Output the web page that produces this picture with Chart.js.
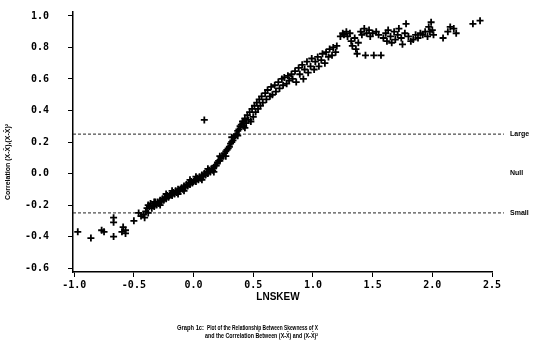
<!DOCTYPE html>
<html>
<head>
<meta charset="utf-8">
<script src="https://cdn.jsdelivr.net/npm/chart.js@4.4.1/dist/chart.umd.min.js"></script>
<style>
  html, body { margin: 0; padding: 0; background: #fff; }
  #wrap { width: 538px; height: 347px; }
</style>
</head>
<body>
<div id="wrap"><canvas id="skewChart" width="538" height="347"></canvas></div>
<script>
// === Data ===
const lnskew = [
  // left tail
  -0.97, -0.86, -0.77, -0.75, -0.67, -0.67, -0.67, -0.60, -0.59, -0.57, -0.57, -0.50, -0.46, -0.44, -0.42, -0.41,
  // tight band
  -0.40, -0.39, -0.38, -0.37, -0.36, -0.35, -0.34, -0.33, -0.32, -0.31, -0.30, -0.29, -0.28, -0.27, -0.26, -0.25,
  -0.24, -0.23, -0.22, -0.21, -0.20, -0.19, -0.18, -0.17, -0.16, -0.15, -0.14, -0.13, -0.12, -0.11, -0.10, -0.09,
  -0.08, -0.07, -0.06, -0.05, -0.04, -0.03, -0.02, -0.01, 0.00, 0.01, 0.02, 0.03, 0.04, 0.05, 0.06, 0.07,
  0.08, 0.09, 0.10, 0.11, 0.12, 0.13, 0.14, 0.15, 0.16, 0.17, 0.18, 0.19, 0.20, 0.21, 0.22, 0.23,
  0.24, 0.25, 0.26, 0.27, 0.28, 0.29, 0.30, 0.31, 0.32, 0.33, 0.34, 0.35, 0.36, 0.37, 0.38, 0.39, 0.40,
  -0.38, -0.33, -0.28, -0.23, -0.18, -0.13, -0.08, -0.03, 0.02, 0.07, 0.12, 0.17, 0.22, 0.27, 0.32, 0.37, 0.42, 0.43,
  // widening band
  0.41, 0.42, 0.43, 0.44, 0.45, 0.46, 0.47, 0.48, 0.49, 0.50, 0.51, 0.52, 0.53, 0.54,
  0.55, 0.56, 0.57, 0.58, 0.60, 0.61, 0.62, 0.64, 0.65, 0.66, 0.68, 0.69, 0.71, 0.72, 0.74,
  0.75, 0.76, 0.78, 0.79, 0.80, 0.82, 0.83, 0.85, 0.86, 0.88, 0.89, 0.91, 0.92, 0.93, 0.95, 0.96, 0.98, 0.99,
  1.01, 1.02, 1.04, 1.05, 1.07, 1.08, 1.10, 1.11, 1.13, 1.14, 1.16, 1.17, 1.19, 1.20,
  // plateau
  1.23, 1.25, 1.26, 1.28, 1.29, 1.31, 1.32, 1.33, 1.35, 1.36, 1.37, 1.38, 1.40, 1.41, 1.43, 1.44, 1.45, 1.47,
  1.48, 1.50, 1.51, 1.53, 1.55, 1.57, 1.59, 1.61, 1.62, 1.63, 1.65, 1.66, 1.68, 1.69, 1.71, 1.72, 1.74, 1.75,
  1.77, 1.78, 1.80, 1.82, 1.84, 1.86, 1.88, 1.90, 1.92, 1.94, 1.96, 1.97, 1.98, 1.99, 2.00, 2.01, 2.09, 2.13,
  2.15, 2.18, 2.20, 2.34, 2.40,
  // lone outlier
  0.09
];
const corr = [
  -0.37, -0.41, -0.36, -0.37, -0.28, -0.31, -0.40, -0.37, -0.34, -0.36, -0.38, -0.30, -0.25, -0.27, -0.26, -0.28,
  -0.24, -0.22, -0.25, -0.21, -0.19, -0.22, -0.20, -0.21, -0.18, -0.20, -0.18, -0.19, -0.17, -0.18, -0.16, -0.17,
  -0.15, -0.16, -0.14, -0.15, -0.14, -0.13, -0.14, -0.12, -0.13, -0.11, -0.12, -0.10, -0.11, -0.10, -0.09, -0.10,
  -0.08, -0.09, -0.07, -0.08, -0.06, -0.07, -0.05, -0.06, -0.05, -0.04, -0.05, -0.03, -0.04, -0.02, -0.03, -0.01,
  -0.02, 0.00, -0.01, 0.01, 0.00, 0.02, 0.01, 0.03, 0.02, 0.04, 0.05, 0.05, 0.07, 0.08, 0.08, 0.10,
  0.11, 0.11, 0.13, 0.14, 0.15, 0.16, 0.17, 0.19, 0.20, 0.21, 0.23, 0.24, 0.25, 0.27, 0.28, 0.30, 0.31,
  -0.20, -0.18, -0.20, -0.13, -0.11, -0.13, -0.11, -0.04, -0.02, -0.04, 0.03, 0.01, 0.11, 0.11, 0.23, 0.24, 0.33, 0.29,
  0.33, 0.30, 0.35, 0.32, 0.37, 0.34, 0.39, 0.33, 0.41, 0.36, 0.43, 0.39, 0.45, 0.41,
  0.47, 0.43, 0.49, 0.45, 0.51, 0.47, 0.53, 0.49, 0.55, 0.50, 0.56, 0.52, 0.58, 0.54, 0.60,
  0.56, 0.61, 0.57, 0.62, 0.59, 0.63, 0.60, 0.65, 0.58, 0.67, 0.63, 0.69, 0.60, 0.66, 0.71, 0.64, 0.68, 0.73,
  0.66, 0.71, 0.74, 0.68, 0.72, 0.76, 0.70, 0.77, 0.74, 0.79, 0.75, 0.80, 0.77, 0.81,
  0.87, 0.89, 0.88, 0.90, 0.87, 0.89, 0.84, 0.81, 0.86, 0.79, 0.76, 0.83, 0.90, 0.88, 0.92, 0.75, 0.89, 0.91,
  0.87, 0.89, 0.75, 0.90, 0.88, 0.75, 0.86, 0.89, 0.84, 0.91, 0.87, 0.83, 0.90, 0.85, 0.88, 0.92, 0.86, 0.82,
  0.89, 0.95, 0.87, 0.84, 0.85, 0.88, 0.86, 0.89, 0.88, 0.90, 0.87, 0.93, 0.90, 0.96, 0.91, 0.88, 0.86, 0.90,
  0.93, 0.92, 0.89, 0.95, 0.97,
  0.34
];
const xTicks = [-1.0, -0.5, 0.0, 0.5, 1.0, 1.5, 2.0, 2.5];
const yTicks = [-0.6, -0.4, -0.2, 0.0, 0.2, 0.4, 0.6, 0.8, 1.0];
const refLevels = [0.25, -0.25];
const refLabels = ['Large', 'Null', 'Small'];
const refLabelLevels = [0.25, 0.0, -0.25];

const points = lnskew.map((v, i) => ({ x: v, y: corr[i] }));

const tickFont = { family: '"DejaVu Sans Mono"', size: 10, weight: 'bold' };

// dashed reference lines run a little past the end of the x axis
const refSets = refLevels.map(level => ({
  type: 'line',
  data: [{ x: -1.01, y: level }, { x: 2.6, y: level }],
  borderColor: '#222',
  borderWidth: 1,
  borderDash: [3, 2],
  pointRadius: 0,
  fill: false,
  clip: false
}));

// text around the plot: right-hand labels, axis titles, caption
const annotations = {
  id: 'annotations',
  afterDraw(chart) {
    const c = chart.ctx;
    const ys = chart.scales.y;
    c.save();
    c.fillStyle = '#000';
    c.textBaseline = 'middle';
    c.textAlign = 'left';
    c.font = 'bold 7px "Liberation Sans"';
    refLabels.forEach((t, i) => c.fillText(t, 510, ys.getPixelForValue(refLabelLevels[i]), 22));

    c.textAlign = 'center';
    c.font = 'bold 10px "Liberation Sans"';
    c.fillText('LNSKEW', 278, 297);

    c.save();
    c.translate(8, 162);
    c.rotate(-Math.PI / 2);
    c.font = 'bold 7px "Liberation Sans"';
    c.fillText('Correlation (X-X\u0304),(X-X\u0304)\u00b2', 0, 0, 98);
    c.restore();

    c.textAlign = 'left';
    c.font = 'bold 7px "Liberation Sans"';
    c.fillText('Graph 1c:', 177, 328, 27);
    c.fillText('Plot of the Relationship Between Skewness of X', 207, 328, 111);
    c.fillText('and the Correlation Between (X-X\u0304) and (X-X\u0304)\u00b2', 205, 336, 113);
    c.restore();
  }
};

const ctx = document.getElementById('skewChart').getContext('2d');
new Chart(ctx, {
  type: 'scatter',
  data: {
    datasets: [{
      data: points,
      pointStyle: 'cross',
      pointRadius: 3.5,
      borderColor: '#000',
      backgroundColor: '#000',
      borderWidth: 1.8
    }, ...refSets]
  },
  options: {
    responsive: false,
    animation: false,
    layout: { padding: { top: 12, right: 46, bottom: 0, left: 0 } },
    plugins: { legend: { display: false }, tooltip: { enabled: false } },
    scales: {
      x: {
        type: 'linear',
        min: -1.01,
        max: 2.5,
        afterFit: s => { s.height = 75; },
        afterBuildTicks: s => { s.ticks = xTicks.map(v => ({ value: v })); },
        grid: { drawOnChartArea: false, drawTicks: true, tickLength: 5, color: '#000' },
        border: { display: true, color: '#000', width: 1.5 },
        ticks: { color: '#000', font: tickFont, padding: 2, maxRotation: 0, callback: v => v.toFixed(1) }
      },
      y: {
        type: 'linear',
        min: -0.625,
        max: 1.025,
        afterFit: s => { s.width = 73; s.paddingTop = 0; s.paddingBottom = 0; },
        afterBuildTicks: s => { s.ticks = yTicks.map(v => ({ value: v })); },
        grid: { drawOnChartArea: false, drawTicks: true, tickLength: 5, color: '#000' },
        border: { display: true, color: '#000', width: 1.5 },
        ticks: { color: '#000', font: tickFont, padding: 19, callback: v => v.toFixed(1) }
      }
    }
  },
  plugins: [annotations]
});
</script>
</body>
</html>
